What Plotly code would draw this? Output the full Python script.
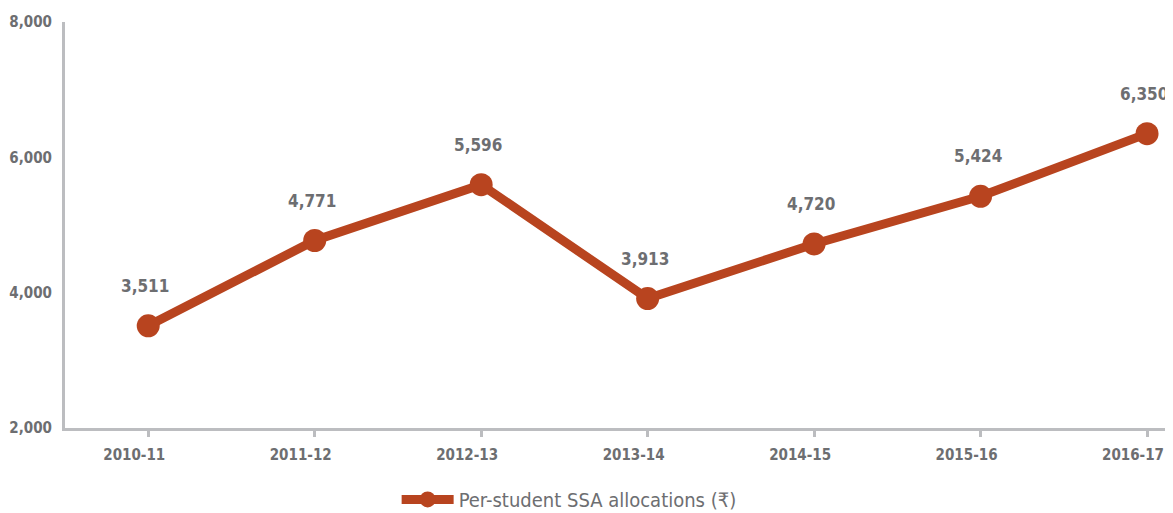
import plotly.graph_objects as go

years = ["2010-11", "2011-12", "2012-13", "2013-14", "2014-15", "2015-16", "2016-17"]
allocations = [3511, 4771, 5596, 3913, 4720, 5424, 6350]
series_name = "Per-student SSA allocations (₹)"

color = "#b8441f"
gray_text = "#6d6e71"
axis_gray = "#bcbdc0"
font_family = "DejaVu Sans Condensed, Liberation Sans Narrow, sans-serif"

fig = go.Figure()
fig.add_trace(go.Scatter(
    x=years, y=allocations, mode="lines+markers",
    name=series_name,
    line=dict(color=color, width=9),
    marker=dict(color=color, size=23),
    cliponaxis=False,
))

for yr, v in zip(years, allocations):
    fig.add_annotation(
        x=yr, y=v, text=f"{v:,}", showarrow=False,
        yshift=40, xshift=-3, xanchor="center", yanchor="middle",
        font=dict(family=font_family, size=17, color=gray_text, weight="bold"),
    )

fig.update_layout(
    width=1173, height=513,
    paper_bgcolor="white", plot_bgcolor="white",
    margin=dict(l=57, r=8, t=14, b=93),
    font=dict(family=font_family, color=gray_text),
    showlegend=True,
    legend=dict(orientation="h", x=0.455, xanchor="center",
                yref="container", y=0.042, yanchor="middle",
                itemwidth=52,
                font=dict(size=20, color=gray_text, family=font_family)),
    xaxis=dict(
        type="category", range=[-0.5, 6.156], automargin=False,
        showline=True, linecolor=axis_gray, linewidth=3,
        ticks="outside", ticklen=6, tickwidth=3, tickcolor=axis_gray,
        ticklabelstandoff=5, ticklabelshift=-14,
        showgrid=False, zeroline=False,
        tickfont=dict(size=15, color=gray_text, family=font_family, weight="bold"),
    ),
    yaxis=dict(
        range=[2000, 8000], tickvals=[2000, 4000, 6000, 8000], automargin=False,
        tickformat=",d",
        showline=True, linecolor=axis_gray, linewidth=3,
        showgrid=False, zeroline=False, ticks="",
        ticklabelstandoff=7,
        tickfont=dict(size=15, color=gray_text, family=font_family, weight="bold"),
    ),
)

fig.write_html("out.html")
